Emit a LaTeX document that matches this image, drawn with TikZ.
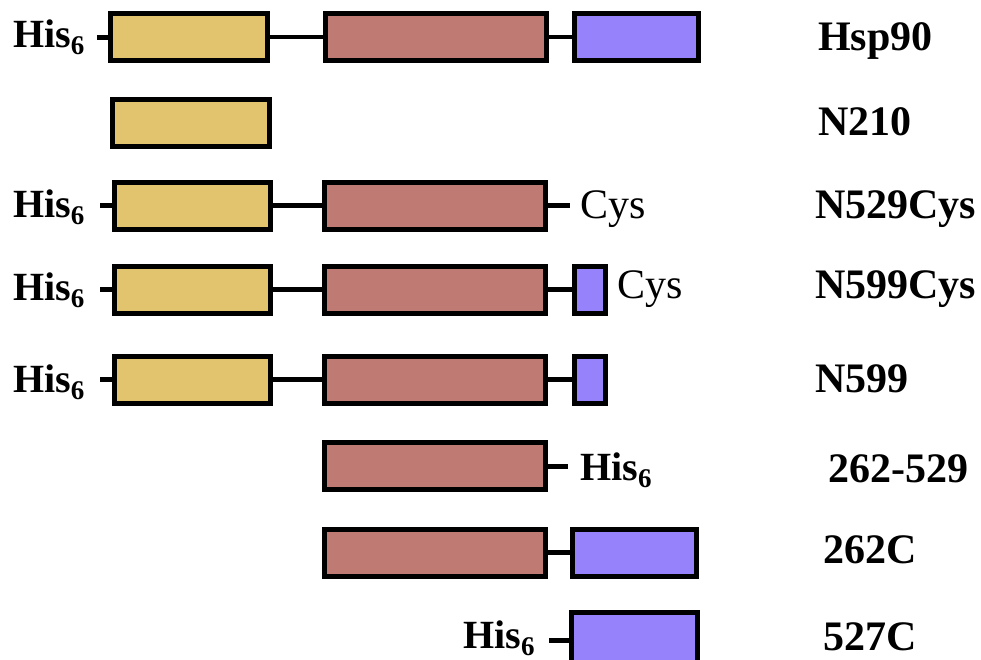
\documentclass[tikz,border=0pt]{standalone}
\usepackage{fontspec}
\setmainfont{Liberation Serif}

\definecolor{ndom}{RGB}{226,196,110}
\definecolor{mdom}{RGB}{191,123,115}
\definecolor{cdom}{RGB}{150,130,250}

% His6 tag: bold text with a lowered subscript
\newcommand{\HisTag}{\textbf{His\raisebox{-7pt}{\fontsize{27}{27}\selectfont 6}}}

\tikzset{
  dom/.style={draw=black, line width=5pt, inner sep=0pt, outer sep=0pt, minimum height=47pt},
  ndomain/.style={dom, fill=ndom, minimum width=157pt},
  mdomain/.style={dom, fill=mdom, minimum width=221pt},
  cdomain/.style={dom, fill=cdom, minimum width=124pt},
  cshort/.style={dom, fill=cdom, minimum width=31pt},
  linker/.style={line width=4.5pt},
  tagline/.style={line width=5pt},
  constrname/.style={font=\fontsize{42}{42}\selectfont\bfseries, anchor=base west, inner sep=0pt},
  histext/.style={font=\fontsize{40}{40}\selectfont, anchor=base west, inner sep=0pt},
  cystext/.style={font=\fontsize{42}{42}\selectfont, anchor=base west, inner sep=0pt}
}

\begin{document}
\begin{tikzpicture}[x=1pt,y=-1pt]
\useasboundingbox (0,0) rectangle (981,659);
\clip (0,0) rectangle (981,659);

% Hsp90 full length
\node[ndomain] (y1) at (189,37) {};
\node[mdomain] (r1) at (435.5,37) {};
\node[cdomain] (b1) at (636.5,37) {};
\draw[linker] (y1.east) -- (r1.west);
\draw[linker] (r1.east) -- (b1.west);
\node[histext] (t1) at (13,47) {\HisTag};
\coordinate (d1) at (97,37);
\draw[tagline] (d1) -- (y1.west);
\node[constrname] (l1) at (818,50) {Hsp90};

% N210
\node[ndomain] (y2) at (191,123) {};
\node[constrname] (l2) at (818,135) {N210};

% N529Cys
\node[ndomain, minimum width=156pt] (y3) at (192.5,205.5) {};
\node[mdomain] (r3) at (435,205.5) {};
\draw[linker] (y3.east) -- (r3.west);
\coordinate (c3) at (570,205.5);
\draw[linker] (r3.east) -- (c3);
\node[cystext] (cy3) at (580,218) {Cys};
\node[histext] (t3) at (13,217) {\HisTag};
\coordinate (d3) at (100,205.5);
\draw[tagline] (d3) -- (y3.west);
\node[constrname] (l3) at (815,218) {N529Cys};

% N599Cys
\node[ndomain, minimum width=156pt] (y4) at (192.5,289.5) {};
\node[mdomain] (r4) at (435,289.5) {};
\node[cshort] (b4) at (590,289.5) {};
\draw[linker] (y4.east) -- (r4.west);
\draw[linker] (r4.east) -- (b4.west);
\node[cystext] (cy4) at (617,298) {Cys};
\node[histext] (t4) at (13,300) {\HisTag};
\coordinate (d4) at (100,289.5);
\draw[tagline] (d4) -- (y4.west);
\node[constrname] (l4) at (815,298) {N599Cys};

% N599
\node[ndomain, minimum width=156pt] (y5) at (192.5,379.5) {};
\node[mdomain] (r5) at (435,379.5) {};
\node[cshort] (b5) at (590,379.5) {};
\draw[linker] (y5.east) -- (r5.west);
\draw[linker] (r5.east) -- (b5.west);
\node[histext] (t5) at (13,392) {\HisTag};
\coordinate (d5) at (100,379.5);
\draw[tagline] (d5) -- (y5.west);
\node[constrname] (l5) at (815,392) {N599};

% 262-529
\node[mdomain] (r6) at (435,466) {};
\coordinate (d6) at (568,466);
\draw[tagline] (r6.east) -- (d6);
\node[histext] (t6) at (580,480) {\HisTag};
\node[constrname] (l6) at (828,482) {262-529};

% 262C
\node[mdomain] (r7) at (435,552.5) {};
\node[cdomain] (b7) at (634.5,552.5) {};
\draw[linker] (r7.east) -- (b7.west);
\node[constrname] (l7) at (823,563) {262C};

% 527C
\node[cdomain, minimum height=55pt, minimum width=126pt] (b8) at (634.5,640) {};
\coordinate (d8) at (549,640);
\draw[tagline] (d8) -- (b8.west);
\node[histext] (t8) at (463,648.5) {\HisTag};
\node[constrname] (l8) at (823,650) {527C};
\end{tikzpicture}
\end{document}
